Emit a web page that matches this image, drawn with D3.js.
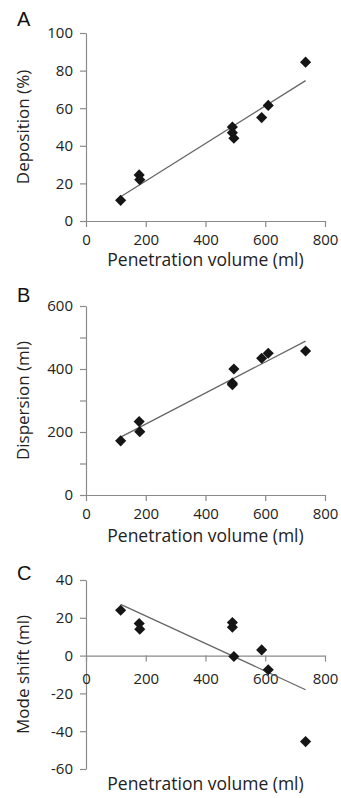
<!DOCTYPE html>
<html><head><meta charset="utf-8">
<script src="https://cdn.jsdelivr.net/npm/d3@7"></script>
<style>
body{margin:0;background:#fff}
text{font-family:"Open Sans",sans-serif}
</style>
</head><body>
<svg id="c" width="341" height="798"></svg>
<script>
// ---- data ----
const volume     = [116, 178, 180, 490, 490, 495, 588, 610, 735];
const deposition = [11, 24.5, 22, 50, 47, 44, 55, 61.5, 84.5];
const dispersion = [172, 233, 201, 355, 350, 400, 434, 450, 457];
const modeShift  = [24, 17, 14, 17.5, 15, -0.5, 3, -7.5, -45.5];
const xTicks = [0, 200, 400, 600, 800];
const depTicks = [0, 20, 40, 60, 80, 100];
const dispTicks = [0, 100, 200, 300, 400, 500, 600];
const dispLabels = [0, 200, 400, 600];
const shiftTicks = [-60, -40, -20, 0, 20, 40];
const panelLetters = ["A", "B", "C"];
const yTitles = ["Deposition (%)", "Dispersion (ml)", "Mode shift (ml)"];
const xTitle = "Penetration volume (ml)";

// ---- layout ----
const svg = d3.select("#c");
const x = d3.scaleLinear().domain([0, 800]).range([86, 325]);
const panels = [
  {letter: panelLetters[0], top: 33, bottom: 221, domain: [0, 100], ticks: depTicks, labels: depTicks,
   title: yTitles[0], values: deposition, letterY: 26, xTitleY: 266, xPad: 7},
  {letter: panelLetters[1], top: 306, bottom: 495, domain: [0, 600], ticks: dispTicks, labels: dispLabels,
   title: yTitles[1], values: dispersion, letterY: 302, xTitleY: 542, xPad: 7},
  {letter: panelLetters[2], top: 580, bottom: 769, domain: [-60, 40], ticks: shiftTicks, labels: shiftTicks,
   title: yTitles[2], values: modeShift, letterY: 580, xTitleY: 790, xPad: 12}
];

function regression(xs, ys) {
  const mx = d3.mean(xs), my = d3.mean(ys);
  let sxy = 0, sxx = 0;
  xs.forEach((v, i) => { sxy += (v - mx) * (ys[i] - my); sxx += (v - mx) * (v - mx); });
  const b = sxy / sxx, a = my - b * mx;
  return v => a + b * v;
}

const diamond = d3.symbol().type(d3.symbolSquare).size(62);

panels.forEach(p => {
  const y = d3.scaleLinear().domain(p.domain).range([p.bottom, p.top]);
  const g = svg.append("g");

  // y axis
  const ya = g.append("g").attr("transform", `translate(${x(0)},0)`)
    .call(d3.axisLeft(y).tickValues(p.ticks).tickSize(6).tickSizeOuter(0).tickPadding(7)
      .tickFormat(d => p.labels.includes(d) ? d : ""));
  // x axis at y=0
  const xa = g.append("g").attr("transform", `translate(0,${y(0)})`)
    .call(d3.axisBottom(x).tickValues(xTicks).tickSize(6).tickSizeOuter(0).tickPadding(p.xPad));
  [ya, xa].forEach(a => {
    a.selectAll("path,line").attr("stroke", "#8a8a8a").attr("stroke-width", 1.2);
    a.selectAll("text").attr("fill", "#222").style("font-size", "15px").style("font-family", '"Open Sans",sans-serif');
  });

  // trend line
  const f = regression(volume, p.values);
  const ext = d3.extent(volume);
  g.append("line")
    .attr("x1", x(ext[0])).attr("y1", y(f(ext[0])))
    .attr("x2", x(ext[1])).attr("y2", y(f(ext[1])))
    .attr("stroke", "#666").attr("stroke-width", 1.3);

  // points
  g.selectAll(".pt").data(volume.map((v, i) => [v, p.values[i]])).join("path")
    .attr("d", diamond)
    .attr("transform", d => `translate(${x(d[0])},${y(d[1])}) rotate(45)`)
    .attr("fill", "#151515");

  // titles
  g.append("text").attr("x", 17).attr("y", p.letterY)
    .style("font-family", '"Liberation Sans",Arial,sans-serif').style("font-size", "20px")
    .attr("fill", "#111").text(p.letter);
  g.append("text").attr("transform", `translate(29,${(p.top + p.bottom) / 2}) rotate(-90)`)
    .attr("text-anchor", "middle").style("font-size", "17px").attr("fill", "#222").text(p.title);
  g.append("text").attr("x", (x(0) + x(800)) / 2).attr("y", p.xTitleY)
    .attr("text-anchor", "middle").style("font-size", "17.5px").attr("fill", "#222").text(xTitle);
});
</script>
</body></html>
